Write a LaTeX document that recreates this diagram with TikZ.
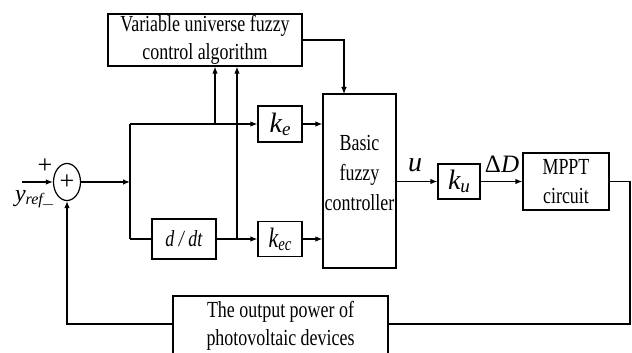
\documentclass[tikz,border=0pt]{standalone}
\usepackage{fontspec}
\setmainfont{Liberation Serif}
\usetikzlibrary{arrows.meta,shapes.geometric}
\newcommand{\tall}[1]{\scalebox{0.78}[1]{#1}}
\newcommand{\kgain}[1]{{\fontsize{28}{28}\selectfont\itshape k\raisebox{-3pt}{\fontsize{19}{19}\selectfont #1}}}
\tikzset{
  blk/.style={rectangle, draw, line width=1.2pt, inner sep=0pt, align=center,
              font=\fontsize{23}{29}\selectfont},
  sumnode/.style={ellipse, draw, line width=1.2pt, inner sep=0pt,
                  minimum width=27pt, minimum height=37pt},
  lbl/.style={inner sep=0pt},
  wire/.style={line width=1.2pt},
  flow/.style={-{Latex[length=7pt,width=5.5pt]}, line width=1.2pt}
}
\begin{document}
\begin{tikzpicture}[x=1pt,y=-1pt]
\useasboundingbox (0,0) rectangle (632,353);
\clip (0,0) rectangle (632,353);
% blocks
\node[blk, minimum width=194pt, minimum height=52pt, font=\fontsize{23}{28}\selectfont] (algo) at (205,40) {\tall{Variable universe fuzzy}\\\tall{control algorithm}};
\node[sumnode] (sum) at (67,182) {\fontsize{26}{26}\selectfont +};
\node[blk, minimum width=64pt, minimum height=40pt] (ddt) at (184,239) {\tall{\textit{d / dt}}};
\node[blk, minimum width=44pt, minimum height=36pt] (ke) at (280,124) {\kgain{e}};
\node[blk, minimum width=44pt, minimum height=35pt] (kec) at (280,239) {\tall{\kgain{ec}}};
\node[blk, minimum width=73pt, minimum height=174pt, font=\fontsize{23}{30}\selectfont,
      label={[lbl, align=center, font=\fontsize{23}{30}\selectfont, yshift=8pt]center:\tall{Basic}\\\tall{fuzzy}\\\tall{controller}}] (bfc) at (359.5,181) {};
\node[blk, minimum width=42pt, minimum height=35pt] (ku) at (459,181.5) {\kgain{u}};
\node[blk, minimum width=86pt, minimum height=57pt] (mppt) at (566,181.5) {\tall{MPPT}\\\tall{circuit}};
\node[blk, minimum width=215pt, minimum height=60pt, font=\fontsize{23}{28}\selectfont] (pv) at (280.5,326) {\tall{The output power of}\\\tall{photovoltaic devices}};
% signs and labels
\node[lbl] (plus) at (45,166) {\fontsize{26}{26}\selectfont +};
\node[lbl] (yref) at (29,199) {\fontsize{24}{24}\selectfont\itshape y\raisebox{-3pt}{\fontsize{16}{16}\selectfont ref}};
\node[lbl] (minus) at (48,205) {\fontsize{16}{16}\selectfont $-$};
\node[lbl] (u) at (415,165) {\fontsize{28}{28}\selectfont\itshape u};
\node[lbl] (dD) at (502,164) {\fontsize{25}{25}\selectfont Δ\textit{D}};
% connectors
\coordinate (in) at (22,182);
\coordinate (br) at (130,182);
\coordinate (brt) at (130,124);
\coordinate (brb) at (130,239);
\coordinate (t1) at (215,124);
\coordinate (t2) at (237,239);
\coordinate (dn) at (344,94);
\coordinate (rc) at (630,324);
\coordinate (lc) at (67,324);
\draw[flow] (in) -- (sum.west);
\draw[flow] (sum.east) -- (br);
\draw[wire] (brt) -- (brb);
\draw[flow] (brt) -- (ke.west);
\draw[wire] (brb) -- (ddt.west);
\draw[flow] (ddt.east) -- (kec.west);
\draw[flow] (t1) -- (t1 |- algo.south);
\draw[flow] (t2) -- (t2 |- algo.south);
\draw[flow] (ke.east) -- (ke.east -| bfc.west);
\draw[flow] (kec.east) -- (kec.east -| bfc.west);
\draw[flow] (algo.east) -| (dn);
\draw[flow] (ku.west -| bfc.east) -- (ku.west);
\draw[flow] (ku.east) -- (mppt.west);
\draw[wire] (mppt.east) -| (rc) -- (rc -| pv.east);
\draw[flow] (lc -| pv.west) -- (lc) -- (sum.south);
\end{tikzpicture}
\end{document}
